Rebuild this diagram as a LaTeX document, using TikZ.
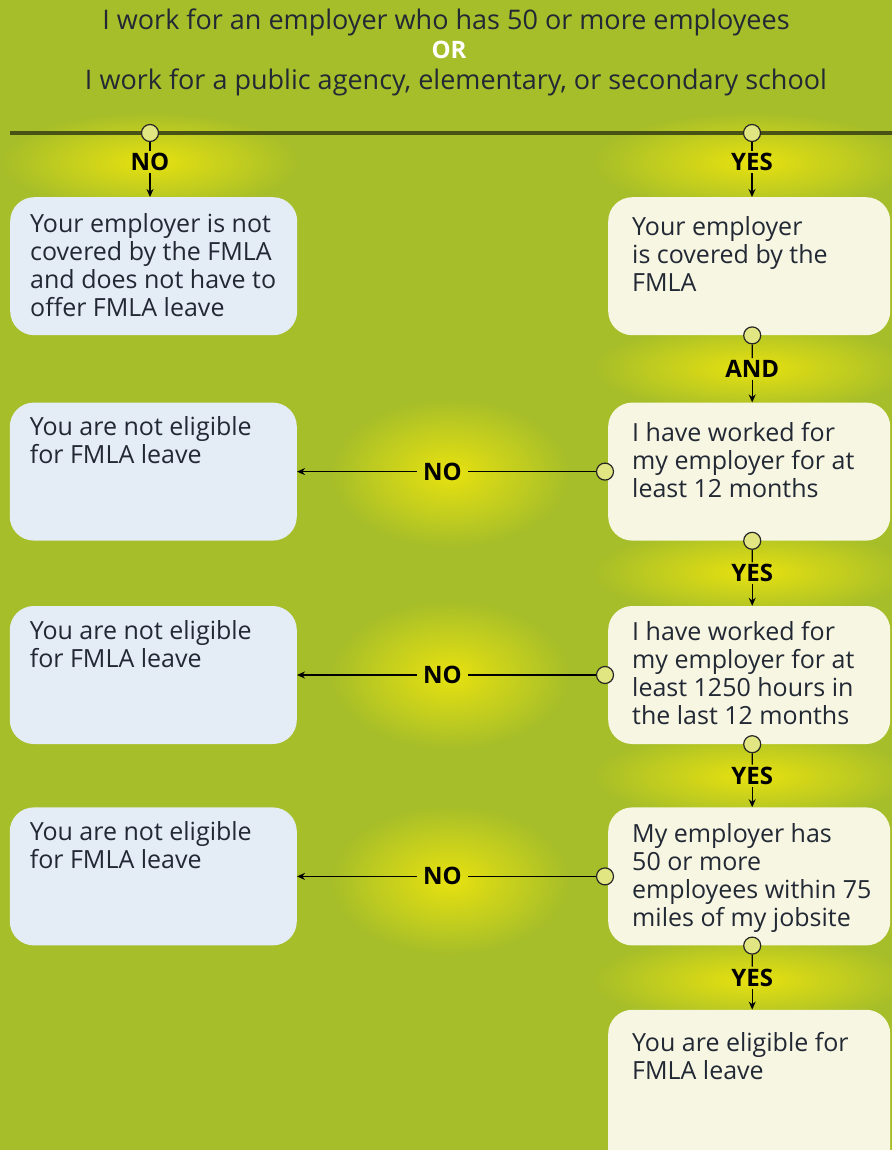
\documentclass[tikz,border=0pt]{standalone}
\usepackage{fontspec}
\setmainfont{Open Sans}
\usetikzlibrary{calc,positioning,arrows.meta,fadings}
\definecolor{fmbg}{RGB}{166,190,42}
\definecolor{fmglow}{RGB}{232,226,16}
\definecolor{fmblue}{RGB}{228,236,246}
\definecolor{fmcream}{RGB}{246,246,226}
\definecolor{fmbar}{RGB}{72,82,20}
\definecolor{fmdot}{RGB}{226,230,130}
\definecolor{fmtext}{RGB}{34,40,52}
\tikzfading[name=glowfade,inner color=transparent!0,outer color=transparent!100]

\begin{document}
\begin{tikzpicture}[x=1pt,y=-1pt,
    title/.style={font=\fontsize{27}{30}\selectfont,text=fmtext,inner sep=0pt},
    leftbox/.style={fill=fmblue,rounded corners=24pt,minimum width=287pt,minimum height=138pt,inner sep=0pt},
    rightbox/.style={fill=fmcream,rounded corners=24pt,minimum width=282pt,minimum height=138pt,inner sep=0pt},
    boxtext/.style={font=\fontsize{25}{28}\selectfont,text=fmtext,align=left,inner sep=0pt},
    tag/.style={font=\bfseries\fontsize{24}{24}\selectfont,text=black,inner xsep=6pt,inner ysep=2pt},
    dot/.style={circle,draw=black!85,fill=fmdot,line width=1.2pt,minimum size=17pt,inner sep=0pt},
    link/.style={draw=black,line width=1.2pt},
    tip/.style={-{Stealth[length=8pt,width=7pt]}}]
  \clip (0,0) rectangle (892,1150);
  \fill[fmbg] (0,0) rectangle (892,1150);
  % yellow glows behind the labels
  \foreach \gx/\gy/\rx/\ry in {150/162/150/50,752/162/160/50,752/368/160/45,752/572/160/45,
      752/776/160/45,752/980/160/45,450/473/120/75,450/675/120/75,450/880/120/75}{
    \fill[fmglow,path fading=glowfade] (\gx,\gy) ellipse [x radius=\rx pt,y radius=\ry pt];}
  % heading
  \node[title] (head1) at (446,22) {I work for an employer who has 50 or more employees};
  \node[title,text=white,font=\bfseries\fontsize{24}{26}\selectfont] (heador) at (449,50) {OR};
  \node[title] (head2) at (456,82) {I work for a public agency, elementary, or secondary school};
  \coordinate (barL) at (10,133);
  \coordinate (barR) at (892,133);
  \draw[fmbar,line width=3.5pt] (barL) -- (barR);

  % right column
  \node[rightbox,anchor=north west] (r1) at (608,197) {};
  \node[rightbox,below=67pt of r1] (r2) {};
  \node[rightbox,below=65pt of r2] (r3) {};
  \node[rightbox,below=63pt of r3] (r4) {};
  \node[rightbox,below=64pt of r4,minimum height=170pt] (r5) {};
  % left column
  \node[leftbox,anchor=north west] (l1) at (10,197) {};
  \node[leftbox,left=311pt of r2] (l2) {};
  \node[leftbox,left=311pt of r3] (l3) {};
  \node[leftbox,left=311pt of r4] (l4) {};

  \node[boxtext,below right=16pt and 20pt of l1.north west] (t1)
    {Your employer is not\\covered by the FMLA\\and does not have to\\offer FMLA leave};
  \node[boxtext,below right=19pt and 24pt of r1.north west] (s1)
    {Your employer\\is covered by the\\FMLA};
  \node[boxtext,below right=20pt and 24pt of r2.north west] (s2)
    {I have worked for\\my employer for at\\least 12 months};
  \node[boxtext,below right=15pt and 24pt of r3.north west] (s3)
    {I have worked for\\my employer for at\\least 1250 hours in\\the last 12 months};
  \node[boxtext,below right=16pt and 24pt of r4.north west] (s4)
    {My employer has\\50 or more\\employees within 75\\miles of my jobsite};
  \node[boxtext,below right=23pt and 24pt of r5.north west] (s5)
    {You are eligible for\\FMLA leave};
  \foreach \i in {2,3,4}{
    \node[boxtext,below right=14pt and 20pt of l\i.north west] (t\i)
      {You are not eligible\\for FMLA leave};}

  % first split
  \node[dot] (d0) at (150,133) {};
  \node[dot] (d1) at (752,133) {};
  \node[tag] (tno) at (150,162) {NO};
  \node[tag] (tyes) at (752,162) {YES};
  \draw[link] (d0) -- (tno);
  \draw[link,tip] (tno) -- (tno |- l1.north);
  \draw[link] (d1) -- (tyes);
  \draw[link,tip] (tyes) -- (tyes |- r1.north);

  % down the right column
  \foreach \a/\b/\word in {1/2/AND,2/3/YES,3/4/YES,4/5/YES}{
    \node[dot] (v\a) at ([xshift=3pt]r\a.south) {};
    \node[tag] (w\a) at ($(v\a)!0.5!(v\a |- r\b.north)$) {\word};
    \draw[link] (v\a) -- (w\a);
    \draw[link,tip] (w\a) -- (w\a |- r\b.north);}

  % across to the left column
  \foreach \i in {2,3,4}{
    \node[dot] (h\i) at ([xshift=-3pt]r\i.west) {};
    \node[tag,left=128pt of h\i] (n\i) {NO};
    \draw[link] (h\i) -- (n\i);
    \draw[link,tip] (n\i) -- (l\i);}
\end{tikzpicture}
\end{document}
